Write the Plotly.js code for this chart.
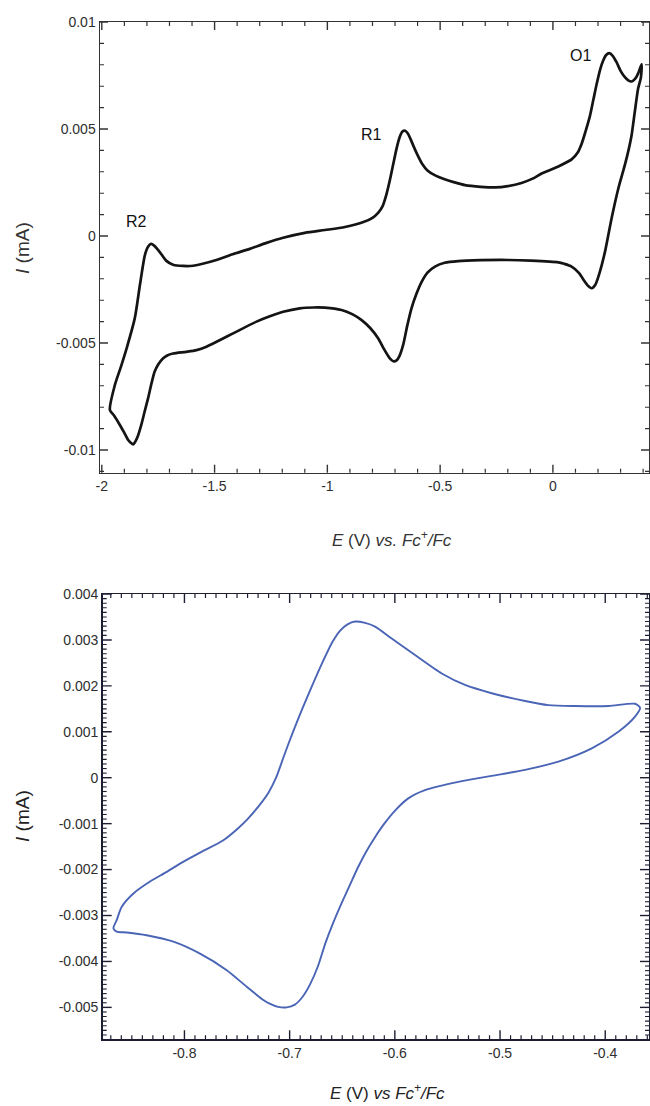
<!DOCTYPE html>
<html>
<head>
<meta charset="utf-8">
<script src="https://cdn.plot.ly/plotly-3.0.1.min.js"></script>
<style>
html,body{margin:0;padding:0;background:#fff;}
#chart{width:650px;height:1106px;}
</style>
</head>
<body>
<div id="chart"></div>
<script>
// ---- Top CV (black) ----
var topE = [
-1.964,-1.942,-1.915,-1.890,-1.854,-1.831,-1.809,-1.795,-1.782,-1.768,-1.743,-1.715,-1.684,-1.640,-1.595,-1.492,-1.420,-1.344,-1.270,-1.196,-1.100,-1.011,-0.922,-0.840,-0.800,-0.775,-0.755,-0.738,-0.722,-0.708,-0.694,-0.680,-0.667,-0.655,-0.644,-0.632,-0.618,-0.600,-0.580,-0.555,-0.520,-0.480,-0.440,-0.390,-0.320,-0.257,-0.200,-0.139,-0.090,-0.050,0.024,0.083,0.110,0.127,0.145,0.164,0.180,0.194,0.210,0.223,0.236,0.250,0.265,0.282,0.300,0.319,0.334,0.349,0.365,0.378,0.393,
0.390,0.378,0.363,0.349,0.335,0.319,0.290,0.260,0.231,0.204,0.188,0.172,0.158,0.142,0.115,0.083,0.050,0.024,-0.100,-0.198,-0.320,-0.420,-0.480,-0.523,-0.555,-0.582,-0.605,-0.627,-0.646,-0.664,-0.680,-0.693,-0.708,-0.723,-0.748,-0.775,-0.810,-0.848,-0.890,-0.937,-1.011,-1.060,-1.122,-1.196,-1.255,-1.314,-1.418,-1.480,-1.536,-1.580,-1.625,-1.684,-1.710,-1.729,-1.750,-1.766,-1.780,-1.795,-1.810,-1.825,-1.840,-1.852,-1.861,-1.872,-1.883,-1.900,-1.920,-1.945,-1.964
];
var topI = [
-0.00813,-0.00696,-0.00610,-0.00525,-0.00385,-0.00229,-0.00089,-0.00050,-0.00037,-0.00045,-0.00075,-0.00115,-0.00134,-0.00140,-0.00139,-0.00112,-0.00085,-0.00060,-0.00032,-0.00008,0.00015,0.00028,0.00042,0.00065,0.00085,0.00108,0.00140,0.00195,0.00265,0.00335,0.00405,0.00460,0.00488,0.00492,0.00480,0.00455,0.00420,0.00378,0.00338,0.00305,0.00282,0.00265,0.00252,0.00238,0.00230,0.00227,0.00233,0.00248,0.00268,0.00292,0.00325,0.00358,0.00390,0.00430,0.00490,0.00560,0.00640,0.00710,0.00780,0.00820,0.00846,0.00855,0.00842,0.00812,0.00772,0.00742,0.00727,0.00722,0.00735,0.00760,0.00802,
0.00740,0.00690,0.00580,0.00472,0.00400,0.00332,0.00222,0.00082,-0.00073,-0.00182,-0.00228,-0.00244,-0.00235,-0.00214,-0.00172,-0.00143,-0.00130,-0.00123,-0.00115,-0.00112,-0.00113,-0.00117,-0.00125,-0.00143,-0.00170,-0.00214,-0.00270,-0.00338,-0.00420,-0.00509,-0.00560,-0.00581,-0.00585,-0.00572,-0.00530,-0.00478,-0.00430,-0.00393,-0.00365,-0.00346,-0.00335,-0.00334,-0.00338,-0.00354,-0.00375,-0.00400,-0.00455,-0.00488,-0.00517,-0.00533,-0.00541,-0.00549,-0.00558,-0.00572,-0.00600,-0.00634,-0.00690,-0.00759,-0.00820,-0.00883,-0.00935,-0.00962,-0.00974,-0.00966,-0.00953,-0.00920,-0.00883,-0.00840,-0.00813
];
var topPeakLabels = ['R2','R1','O1'];
var topXTickVals = [-2,-1.5,-1,-0.5,0];
var topXTickText = ['-2','-1.5','-1','-0.5','0'];
var topYTickVals = [0.01,0.005,0,-0.005,-0.01];
var topYTickText = ['0.01','0.005','0','-0.005','-0.01'];

// ---- Bottom CV (blue) ----
var botE = [
-0.8675,-0.8644,-0.8596,-0.8485,-0.8327,-0.8168,-0.8042,-0.7852,-0.7630,-0.7500,-0.7400,-0.7281,-0.7200,-0.7129,-0.7050,-0.6968,-0.6880,-0.6787,-0.6690,-0.6587,-0.6520,-0.6450,-0.6378,-0.6283,-0.6188,-0.6030,-0.5808,-0.5554,-0.5333,-0.5079,-0.4762,-0.4541,-0.4287,-0.3970,-0.3717,-0.3669,
-0.3717,-0.3875,-0.4128,-0.4446,-0.4762,-0.5079,-0.5396,-0.5713,-0.5872,-0.6000,-0.6100,-0.6190,-0.6270,-0.6350,-0.6430,-0.6510,-0.6590,-0.6660,-0.6730,-0.6806,-0.6880,-0.6950,-0.7028,-0.7110,-0.7190,-0.7250,-0.7408,-0.7598,-0.7852,-0.8105,-0.8359,-0.8548,-0.8644,-0.8675
];
var botI = [
-0.00328,-0.00310,-0.00281,-0.00252,-0.00226,-0.00205,-0.00187,-0.00163,-0.00136,-0.00112,-0.00090,-0.00058,-0.00032,0.00000,0.00050,0.00100,0.00150,0.00200,0.00250,0.00298,0.00320,0.00334,0.00340,0.00337,0.00329,0.00303,0.00267,0.00227,0.00202,0.00184,0.00167,0.00158,0.00156,0.00156,0.00161,0.00152,
0.00133,0.00100,0.00064,0.00035,0.00017,0.00004,-0.00009,-0.00027,-0.00045,-0.00072,-0.00100,-0.00130,-0.00160,-0.00195,-0.00235,-0.00275,-0.00318,-0.00360,-0.00410,-0.00450,-0.00478,-0.00494,-0.00500,-0.00499,-0.00492,-0.00484,-0.00455,-0.00419,-0.00383,-0.00357,-0.00343,-0.00337,-0.00335,-0.00328
];
var botXTickVals = [-0.8,-0.7,-0.6,-0.5,-0.4];
var botXTickText = ['-0.8','-0.7','-0.6','-0.5','-0.4'];
var botYTickVals = [0.004,0.003,0.002,0.001,0,-0.001,-0.002,-0.003,-0.004,-0.005];
var botYTickText = ['0.004','0.003','0.002','0.001','0','-0.001','-0.002','-0.003','-0.004','-0.005'];

var W = 650, H = 1106;
function px(x){return x/W;}
function py(y){return 1 - y/H;}
var FONT = 'Liberation Sans, Arial, sans-serif';
var TOPC = '#333', BOTC = '#1e1e33';

var traces = [
  {x: topE, y: topI, xaxis:'x', yaxis:'y', mode:'lines',
   line:{color:'#141414', width:2.7, shape:'spline', smoothing:0.7}, hoverinfo:'skip'},
  {x: botE, y: botI, xaxis:'x2', yaxis:'y2', mode:'lines',
   line:{color:'#4a64b6', width:1.9, shape:'spline', smoothing:0.7}, hoverinfo:'skip'}
];

function axisBase(extra){
  var a = {
    showline:true, linecolor:TOPC, linewidth:1.5, mirror:true,
    ticks:'inside', tickcolor:'rgba(0,0,0,0)', tickwidth:1, ticklen:8,
    showgrid:false, zeroline:false, tickmode:'array',
    tickfont:{family:FONT, size:14, color:'#2e2e2e'},
    automargin:false, fixedrange:true
  };
  for (var k in extra) a[k] = extra[k];
  return a;
}

var topXR = [-2.008, 0.426], topYR = [-0.01106, 0.01];
var botXR = [-0.8777, -0.3584], botYR = [-0.005695, 0.004];

// Inward tick marks on all four sides (major + minor), built as axis decorations
var shapes = [];
function addTicks(xr, yr, xRange, yRange, xStep, xMajorEvery, yStep, yMajorEvery, plotW, plotH, majLen, minLen, color){
  var k, v, L, f;
  for (k = Math.ceil(xRange[0]/xStep - 1e-9); k <= Math.floor(xRange[1]/xStep + 1e-9); k++){
    v = k*xStep; L = (k % xMajorEvery === 0) ? majLen : minLen; f = L/plotH;
    shapes.push({type:'line', xref:xr, yref:yr+' domain', x0:v, x1:v, y0:0, y1:f, line:{color:color, width:(L===majLen?1.4:1.2)}});
    shapes.push({type:'line', xref:xr, yref:yr+' domain', x0:v, x1:v, y0:1-f, y1:1, line:{color:color, width:(L===majLen?1.4:1.2)}});
  }
  for (k = Math.ceil(yRange[0]/yStep - 1e-9); k <= Math.floor(yRange[1]/yStep + 1e-9); k++){
    v = k*yStep; L = (k % yMajorEvery === 0) ? majLen : minLen; f = L/plotW;
    shapes.push({type:'line', xref:xr+' domain', yref:yr, x0:0, x1:f, y0:v, y1:v, line:{color:color, width:(L===majLen?1.4:1.1)}});
    shapes.push({type:'line', xref:xr+' domain', yref:yr, x0:1-f, x1:1, y0:v, y1:v, line:{color:color, width:(L===majLen?1.4:1.1)}});
  }
}
addTicks('x', 'y', topXR, topYR, 0.1, 5, 0.001, 5, 549, 450.7, 8, 4, TOPC);
addTicks('x2', 'y2', botXR, botYR, 0.01, 10, 0.0001, 10, 546.3, 445.3, 9, 4, BOTC);

var layout = {
  width: W, height: H,
  margin:{l:0, r:0, t:0, b:0},
  paper_bgcolor:'#fff', plot_bgcolor:'rgba(0,0,0,0)',
  showlegend:false,
  font:{family:FONT, color:'#222'},
  xaxis: axisBase({domain:[px(100), px(649)], range:topXR, anchor:'y',
    tickvals: topXTickVals, ticktext: topXTickText}),
  yaxis: axisBase({domain:[py(472.7), py(22)], range:topYR, anchor:'x',
    tickvals: topYTickVals, ticktext: topYTickText}),
  xaxis2: axisBase({domain:[px(102.7), px(649)], range:botXR, anchor:'y2', linecolor:BOTC,
    tickvals: botXTickVals, ticktext: botXTickText}),
  yaxis2: axisBase({domain:[py(1039.3), py(594)], range:botYR, anchor:'x2', linecolor:BOTC,
    tickvals: botYTickVals, ticktext: botYTickText}),
  shapes: shapes,
  annotations: [
    {xref:'x', yref:'y', x:-1.845, y:0.00067, text:topPeakLabels[0], showarrow:false,
     font:{family:FONT, size:16, color:'#111'}},
    {xref:'x', yref:'y', x:-0.803, y:0.00473, text:topPeakLabels[1], showarrow:false,
     font:{family:FONT, size:16, color:'#111'}},
    {xref:'x', yref:'y', x:0.124, y:0.00843, text:topPeakLabels[2], showarrow:false,
     font:{family:FONT, size:16, color:'#111'}},
    {xref:'paper', yref:'paper', x:px(392), y:py(539), xanchor:'center', yanchor:'middle',
     text:'<i>E</i> (V) <i>vs. Fc<sup>+</sup>/Fc</i>', showarrow:false,
     font:{family:FONT, size:17, color:'#333'}},
    {xref:'paper', yref:'paper', x:px(22), y:py(248), xanchor:'center', yanchor:'middle', textangle:-90,
     text:'<i>I</i> (mA)', showarrow:false, font:{family:FONT, size:19, color:'#333'}},
    {xref:'paper', yref:'paper', x:px(387), y:py(1092), xanchor:'center', yanchor:'middle',
     text:'<i>E</i> (V) <i>vs Fc<sup>+</sup>/Fc</i>', showarrow:false,
     font:{family:FONT, size:17, color:'#222'}},
    {xref:'paper', yref:'paper', x:px(22), y:py(816), xanchor:'center', yanchor:'middle', textangle:-90,
     text:'<i>I</i> (mA)', showarrow:false, font:{family:FONT, size:19, color:'#222'}}
  ]
};

Plotly.newPlot('chart', traces, layout, {displayModeBar:false, staticPlot:true});
</script>
</body>
</html>
